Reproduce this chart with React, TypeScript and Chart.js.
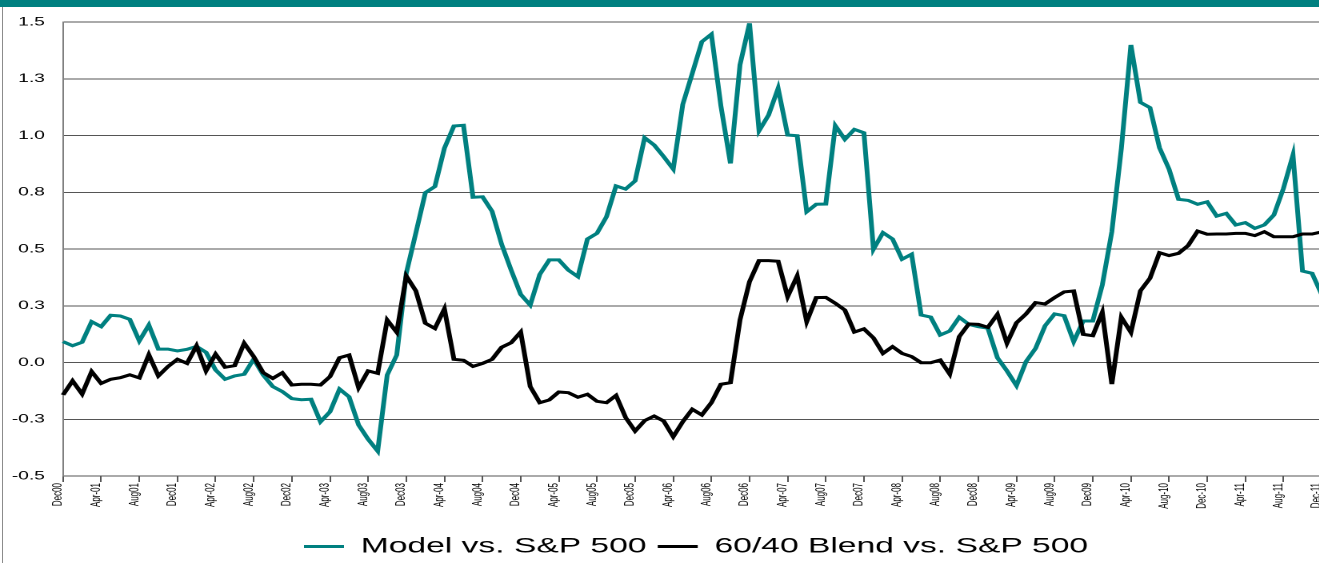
import React, { useEffect, useRef } from 'react';
import { Chart, registerables } from 'chart.js';

Chart.register(...registerables);

const FONT = "'Liberation Sans', Arial, sans-serif";
const TEAL = '#008080';

// Monthly categories Dec-00 .. Dec-11
const monthNames = ['Jan', 'Feb', 'Mar', 'Apr', 'May', 'Jun', 'Jul', 'Aug', 'Sep', 'Oct', 'Nov', 'Dec'];
const categories: string[] = [];
for (let i = 0; i <= 132; i++) {
  const m = (11 + i) % 12;
  const y = Math.floor((11 + i) / 12);
  categories.push(`${monthNames[m]}-${String(y).padStart(2, '0')}`);
}

// Tick labels shown every 4 months
const xTickLabels = [
  'Dec00', 'Apr-01', 'Aug01', 'Dec01', 'Apr-02', 'Aug02', 'Dec02', 'Apr-03', 'Aug03', 'Dec03',
  'Apr-04', 'Aug04', 'Dec04', 'Apr-05', 'Aug05', 'Dec05', 'Apr-06', 'Aug06', 'Dec06', 'Apr-07',
  'Aug07', 'Dec07', 'Apr-08', 'Aug08', 'Dec08', 'Apr-09', 'Aug09', 'Dec09', 'Apr-10', 'Aug-10',
  'Dec-10', 'Apr-11', 'Aug-11', 'Dec-11',
];

const yTickValues = [-0.5, -0.25, 0, 0.25, 0.5, 0.75, 1.0, 1.25, 1.5];
const yTickLabels = ['-0.5', '-0.3', '0.0', '0.3', '0.5', '0.8', '1.0', '1.3', '1.5'];

const modelVsSP = [
  0.092, 0.074, 0.089, 0.180, 0.158, 0.208, 0.205, 0.190, 0.095, 0.165,
  0.059, 0.059, 0.051, 0.058, 0.071, 0.045, -0.033, -0.074, -0.059, -0.052,
  0.015, -0.055, -0.106, -0.128, -0.159, -0.164, -0.162, -0.261, -0.217, -0.117,
  -0.151, -0.275, -0.338, -0.390, -0.055, 0.033, 0.393, 0.570, 0.748, 0.775,
  0.944, 1.042, 1.045, 0.728, 0.730, 0.666, 0.521, 0.407, 0.300, 0.253,
  0.388, 0.452, 0.452, 0.407, 0.378, 0.544, 0.569, 0.642, 0.778, 0.764,
  0.800, 0.990, 0.958, 0.907, 0.852, 1.137, 1.274, 1.413, 1.446, 1.130,
  0.877, 1.311, 1.494, 1.021, 1.090, 1.208, 1.002, 0.999, 0.664, 0.697,
  0.698, 1.043, 0.983, 1.027, 1.012, 0.499, 0.572, 0.544, 0.455, 0.477,
  0.209, 0.200, 0.121, 0.139, 0.199, 0.168, 0.158, 0.151, 0.021, -0.037,
  -0.102, 0.004, 0.062, 0.162, 0.214, 0.206, 0.092, 0.183, 0.183, 0.341,
  0.576, 0.943, 1.399, 1.146, 1.123, 0.946, 0.852, 0.719, 0.714, 0.697,
  0.708, 0.645, 0.657, 0.606, 0.616, 0.591, 0.606, 0.650, 0.767, 0.914,
  0.403, 0.393, 0.300,
];

const blendVsSP = [
  -0.143, -0.081, -0.139, -0.040, -0.092, -0.074, -0.067, -0.054, -0.068, 0.034,
  -0.059, -0.018, 0.014, -0.004, 0.073, -0.037, 0.037, -0.021, -0.014, 0.085,
  0.026, -0.045, -0.070, -0.045, -0.099, -0.096, -0.096, -0.099, -0.062, 0.021,
  0.033, -0.111, -0.037, -0.048, 0.187, 0.133, 0.381, 0.316, 0.173, 0.150,
  0.236, 0.014, 0.010, -0.017, -0.004, 0.014, 0.067, 0.087, 0.134, -0.106,
  -0.177, -0.165, -0.130, -0.133, -0.153, -0.140, -0.171, -0.177, -0.145, -0.242,
  -0.302, -0.256, -0.236, -0.258, -0.327, -0.261, -0.206, -0.231, -0.177, -0.096,
  -0.089, 0.187, 0.356, 0.449, 0.449, 0.446, 0.290, 0.381, 0.180, 0.286,
  0.287, 0.261, 0.231, 0.134, 0.148, 0.108, 0.040, 0.070, 0.040, 0.026,
  -0.001, -0.001, 0.011, -0.051, 0.114, 0.170, 0.168, 0.155, 0.212, 0.085,
  0.175, 0.214, 0.264, 0.258, 0.286, 0.311, 0.315, 0.124, 0.118, 0.221,
  -0.095, 0.199, 0.133, 0.316, 0.371, 0.484, 0.471, 0.481, 0.515, 0.579,
  0.565, 0.566, 0.566, 0.569, 0.569, 0.559, 0.576, 0.554, 0.554, 0.554,
  0.566, 0.566, 0.575,
];

// horizontal stretch of the whole picture (reference is a widened image)
const STRETCH = 1.6;
const CANVAS_W = 838;
const CANVAS_H = 580;
const LEGEND_START = 190;

const legendShift = {
  id: 'legendShift',
  afterLayout(chart: any) {
    const lg = chart.legend;
    if (!lg || !lg.lineWidths) return;
    const pad = lg.options.labels.padding;
    const cur = (lg.left + pad + lg.right - lg.lineWidths[0]) / 2;
    const dx = LEGEND_START - cur;
    lg.left += dx;
    lg.right += dx;
  },
};

export default function App() {
  const ref = useRef<HTMLCanvasElement | null>(null);

  useEffect(() => {
    if (!ref.current) return;
    const chart = new Chart(ref.current, {
      type: 'line',
      data: {
        labels: categories,
        datasets: [
          {
            label: 'Model vs. S&P 500',
            data: modelVsSP,
            borderColor: TEAL,
            backgroundColor: TEAL,
            borderWidth: 3,
            pointRadius: 0,
            pointBorderWidth: 3,
            pointBorderColor: TEAL,
            tension: 0,
            order: 1,
          },
          {
            label: '60/40 Blend vs. S&P 500',
            data: blendVsSP,
            borderColor: '#000000',
            backgroundColor: '#000000',
            borderWidth: 3,
            pointRadius: 0,
            pointBorderWidth: 3,
            pointBorderColor: '#000000',
            tension: 0,
            order: 0,
          },
        ],
      },
      options: {
        responsive: false,
        animation: false,
        devicePixelRatio: 2,
        layout: { padding: { left: 0, right: 12, top: 22, bottom: 13 } },
        plugins: {
          legend: {
            position: 'bottom',
            labels: {
              usePointStyle: true,
              pointStyle: 'line',
              pointStyleWidth: 25,
              padding: 7,
              color: '#000',
              font: { family: FONT, size: 21 },
              sort: (a: any, b: any) => a.datasetIndex - b.datasetIndex,
            },
          },
          tooltip: { enabled: false },
        },
        scales: {
          x: {
            type: 'category',
            offset: false,
            grid: {
              display: true,
              drawOnChartArea: false,
              drawTicks: true,
              tickLength: 6,
              lineWidth: 1,
              tickColor: (ctx: any) => (ctx.index % 4 === 0 ? '#555' : 'rgba(0,0,0,0)'),
            },
            border: { display: true, color: '#555', width: 1 },
            ticks: {
              autoSkip: false,
              maxRotation: 90,
              minRotation: 90,
              padding: 1,
              labelOffset: -3,
              color: '#000',
              font: { family: FONT, size: 8 },
              callback: (_v: any, i: number) => (i % 4 === 0 ? xTickLabels[i / 4] : ''),
            },
            afterFit: (s: any) => {
              s.height = 53;
            },
          },
          y: {
            min: -0.5,
            max: 1.5,
            ticks: {
              stepSize: 0.25,
              padding: 11.3,
              color: '#000',
              font: { family: FONT, size: 12 },
              callback: (v: any) => {
                const k = yTickValues.findIndex((t) => Math.abs(t - Number(v)) < 1e-6);
                return k >= 0 ? yTickLabels[k] : '';
              },
            },
            grid: { color: '#555', lineWidth: 1, drawTicks: false },
            border: { display: true, color: '#808080', width: 1 },
            afterFit: (s: any) => {
              s.width = 39.4;
            },
          },
        },
      },
      plugins: [legendShift],
    } as any);
    return () => chart.destroy();
  }, []);

  return (
    <div
      style={{
        position: 'fixed',
        left: 0,
        top: 0,
        width: 1319,
        height: 563,
        overflow: 'hidden',
        background: '#fff',
      }}
    >
      <div
        style={{
          position: 'absolute',
          left: 0,
          top: 0,
          transform: `scaleX(${STRETCH})`,
          transformOrigin: '0 0',
        }}
      >
        <canvas ref={ref} width={CANVAS_W} height={CANVAS_H} style={{ display: 'block' }} />
      </div>
      <div style={{ position: 'absolute', left: 0, top: 0, width: 1319, height: 7, background: TEAL }} />
      <div style={{ position: 'absolute', left: 2, top: 7, width: 1, height: 556, background: '#8c8c8c' }} />
    </div>
  );
}
